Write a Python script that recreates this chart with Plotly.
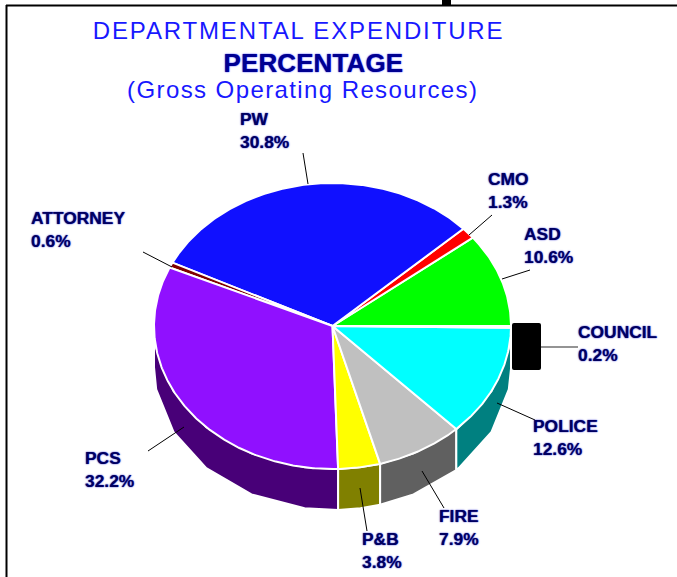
import numpy as np
import plotly.graph_objects as go

# ---- data ----
departments = ["ASD", "CMO", "PW", "ATTORNEY", "PCS", "P&B", "FIRE", "POLICE", "COUNCIL"]
percentages = [10.6, 1.3, 30.8, 0.6, 32.2, 3.8, 7.9, 12.6, 0.2]
title_lines = ["DEPARTMENTAL EXPENDITURE", "PERCENTAGE", "(Gross Operating Resources)"]

# ---- style / geometry ----
top_colors = ["#00ff00", "#ff0000", "#1010ff", "#800000", "#9010ff", "#ffff00", "#c0c0c0", "#00ffff", "#000000"]
side_colors = ["#008000", "#800000", "#080880", "#400000", "#480078", "#808000", "#606060", "#008080", "#000000"]
CX, CY, RX, RY, DEPTH = 332.5, 326, 178.5, 143, 41
label_xy = {"ASD": (523, 245), "CMO": (487, 190), "PW": (239, 130), "ATTORNEY": (30, 229),
            "PCS": (84, 469), "P&B": (361, 550), "FIRE": (438, 527), "POLICE": (532, 437),
            "COUNCIL": (577, 343)}
leaders = {"ASD": ((530, 270), (502, 279)), "CMO": ((492, 215), (469, 235)),
           "PW": ((303, 153), (308, 184)), "ATTORNEY": ((143, 252), (172, 267)),
           "PCS": ((148, 451), (184, 427)), "P&B": ((360, 488), (367, 531)),
           "FIRE": ((422, 471), (444, 508)), "POLICE": ((497, 403), (535, 420))}

edges = np.concatenate([[0], np.cumsum(percentages)]) * 3.6
fig = go.Figure()


def px(t, dy=0):
    r = np.radians(t)
    return CX + RX * np.cos(r), CY - RY * np.sin(r) + dy


# extruded side walls (coarsely faceted, as in the original)
grid = np.arange(9, 360, 18)
for i in range(len(departments) - 1):
    a, b = max(edges[i], 180), edges[i + 1]
    if b <= 180:
        continue
    t = np.concatenate([[a], grid[(grid > a) & (grid < b)], [b]])
    xt, yt = px(t)
    xb, yb = px(t, DEPTH)
    fig.add_trace(go.Scatter(x=np.r_[xt, xb[::-1], xt[0]], y=np.r_[yt, yb[::-1], yt[0]],
                             mode="lines", fill="toself", fillcolor=side_colors[i],
                             line=dict(color="white", width=2), hoverinfo="skip", showlegend=False))

# top face
for i, name in enumerate(departments):
    t = np.linspace(edges[i], edges[i + 1], max(3, int((edges[i + 1] - edges[i]) * 2)))
    x, y = px(t)
    fig.add_trace(go.Scatter(x=np.r_[CX, x, CX], y=np.r_[CY, y, CY],
                             mode="lines", fill="toself", fillcolor=top_colors[i],
                             line=dict(color="white", width=2),
                             hoverinfo="skip", showlegend=False))

shapes = []
for (x0, y0), (x1, y1) in leaders.values():
    shapes.append(dict(type="line", x0=x0, y0=y0, x1=x1, y1=y1, line=dict(color="#000000", width=1)))
shapes += [
    dict(type="line", x0=541, y0=347, x1=578, y1=347, line=dict(color="#707070", width=1.5)),
    dict(type="path", path="M 514 323 L 539 323 Q 541 323 541 325 L 541 368 Q 541 370 539 370 "
                           "L 514 370 Q 512 370 512 368 L 512 325 Q 512 323 514 323 Z",
         fillcolor="#000000", line=dict(width=0)),
    dict(type="line", x0=6, y0=5.5, x1=677, y1=5.5, line=dict(color="#000000", width=2)),
    dict(type="line", x0=6.5, y0=5, x1=6.5, y1=577, line=dict(color="#000000", width=2)),
    dict(type="rect", x0=442, y0=0, x1=451, y1=5, fillcolor="#000000", line=dict(width=0)),
]

annotations = []
label_font = dict(family="Liberation Sans", size=17.4, color="#000060", weight="bold",
                  shadow="0 0 1.5px #0000c0")
for name, pct in zip(departments, percentages):
    x, y = label_xy[name]
    annotations.append(dict(x=x, y=y, text=f"{name}<br>{pct}%", showarrow=False, xanchor="left",
                            yanchor="middle", align="left", font=label_font, borderpad=0))

title_pos = [(298, 30), (313.5, 63), (302, 89)]
title_fonts = [dict(family="Liberation Sans", size=24, color="#1818ff"),
               dict(family="Liberation Sans", size=26, color="#000090", weight="bold",
                    shadow="0 0 1.5px #0000ff"),
               dict(family="Liberation Sans", size=24, color="#1818ff")]
for s, (x, y), f in zip(title_lines, title_pos, title_fonts):
    annotations.append(dict(x=x, y=y, text=s, showarrow=False, xanchor="center", yanchor="middle", font=f))

fig.update_layout(
    width=677, height=577, margin=dict(l=0, r=0, t=0, b=0), autosize=False,
    paper_bgcolor="white", plot_bgcolor="white", showlegend=False,
    xaxis=dict(range=[0, 677], visible=False, fixedrange=True),
    yaxis=dict(range=[577, 0], visible=False, fixedrange=True),
    shapes=shapes, annotations=annotations,
)

spacing = """
document.body.style.margin = '0';
document.querySelectorAll('.annotation-text').forEach(function (n) {
  var s = n.textContent;
  if (s.indexOf('DEPARTMENTAL') === 0) n.style.letterSpacing = '1.85px';
  if (s.indexOf('(Gross') === 0) n.style.letterSpacing = '1.4px';
  if (s === 'PERCENTAGE') n.style.letterSpacing = '0.1px';
});
"""
fig.write_html("out.html", post_script=spacing, config={"displayModeBar": False})
